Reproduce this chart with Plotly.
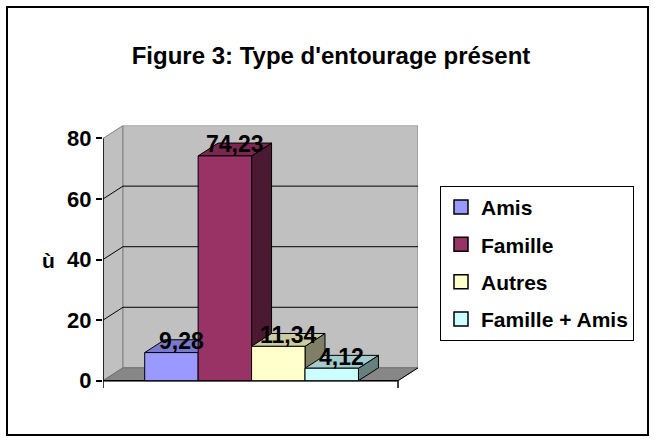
import plotly.graph_objects as go

# ---- data ----
categories = ["Amis", "Famille", "Autres", "Famille + Amis"]
values = [9.28, 74.23, 11.34, 4.12]
value_labels = ["9,28", "74,23", "11,34", "4,12"]
colors = ["#9999FF", "#993366", "#FFFFCC", "#CCFFFF"]
y_ticks = [0, 20, 40, 60, 80]
title_text = "Figure 3: Type d'entourage présent"
y_title = "ù"

# ---- geometry (in data units) ----
W, H = 655, 447
FONT = "Liberation Sans, Arial, sans-serif"
ymax = y_ticks[-1]
xL = -1.28          # front-left of floor
xR = 4.24           # front-right of floor
dx = 0.374          # depth offset (x units)
dy = 4.245          # depth offset (y units)
ybot = -2.5         # a little room for axis ticks below zero

# pixel placement of plot area
px_left, px_right = 103, 418
px_top, px_zero = 127, 385
yscale = (px_zero - px_top) / (ymax + dy)
px_bottom = px_zero - ybot * yscale


def shade(hexcol, f):
    h = hexcol.lstrip("#")
    r, g, b = (int(h[i:i + 2], 16) for i in (0, 2, 4))
    return "rgb(%d,%d,%d)" % (r * f, g * f, b * f)


def poly(xs, ys, fill, line, lw=1):
    return go.Scatter(x=list(xs) + [xs[0]], y=list(ys) + [ys[0]], mode="lines",
                      fill="toself", fillcolor=fill,
                      line=dict(color=line, width=lw),
                      hoverinfo="skip", showlegend=False)


def seg(xs, ys, color, lw=1):
    return go.Scatter(x=xs, y=ys, mode="lines", line=dict(color=color, width=lw),
                      hoverinfo="skip", showlegend=False)


fig = go.Figure()

# side wall
fig.add_trace(poly([xL, xL, xL + dx, xL + dx], [0, ymax, ymax + dy, dy], "#C0C0C0", "#808080"))
# back wall
fig.add_trace(poly([xL + dx, xL + dx, xR + dx, xR + dx], [dy, ymax + dy, ymax + dy, dy], "#C0C0C0", "#808080"))
# floor
fig.add_trace(poly([xL, xL + dx, xR + dx, xR], [0, dy, dy, 0], "#878787", "#707070"))
fig.add_trace(seg([xR, xR + dx], [0, dy], "black"))

# gridlines (excluding 0 and top)
for v in y_ticks[1:-1]:
    fig.add_trace(seg([xL, xL + dx, xR + dx], [v, v + dy, v + dy], "black"))

# front axes
fig.add_trace(seg([xL, xL], [0, ymax], "black", 1.5))
fig.add_trace(seg([xL, xR], [0, 0], "black", 1.5))
fig.add_trace(seg([xL, xL], [0, ybot], "black", 1.5))
fig.add_trace(seg([xR, xR], [0, ybot], "black", 1.5))

# 3D bars
for i, (v, c) in enumerate(zip(values, colors)):
    x0, x1 = i - 0.5, i + 0.5
    # side face
    fig.add_trace(poly([x1, x1, x1 + dx, x1 + dx], [0, v, v + dy, dy], shade(c, 0.5), "black"))
    # top face
    fig.add_trace(poly([x0, x0 + dx, x1 + dx, x1], [v, v + dy, v + dy, v], shade(c, 0.8), "black"))
    # front face
    fig.add_trace(poly([x0, x0, x1, x1], [0, v, v, 0], c, "black"))

# legend entries
for i, (name, c) in enumerate(zip(categories, colors)):
    fig.add_trace(go.Scatter(x=[None], y=[None], mode="markers", name=name,
                             legendgroup="g%d" % i,
                             marker=dict(symbol="square", size=14, color=c,
                                         line=dict(color="black", width=1.5))))

# value labels
for i, (v, t) in enumerate(zip(values, value_labels)):
    fig.add_annotation(x=i + dx / 2, y=v + dy / 2, text=t, showarrow=False,
                       yshift=5, font=dict(family=FONT, size=23, color="black", weight="bold"))

# y axis title
fig.add_annotation(xref="paper", yref="paper", x=48 / W, xanchor="center",
                   y=(H - 263) / H, yanchor="middle", text=y_title,
                   showarrow=False, font=dict(family=FONT, size=21, color="black", weight="bold"))

fig.update_layout(
    width=W, height=H, autosize=False,
    margin=dict(l=0, r=0, t=0, b=0),
    paper_bgcolor="white", plot_bgcolor="rgba(0,0,0,0)",
    font=dict(family=FONT, color="black"),
    title=dict(text=title_text, x=331 / W, xanchor="center", y=(H - 56) / H, yanchor="middle",
               font=dict(family=FONT, size=24, color="black", weight="bold")),
    xaxis=dict(domain=[px_left / W, px_right / W], range=[xL, xR + dx], visible=False),
    yaxis=dict(domain=[(H - px_bottom) / H, (H - px_top) / H], range=[ybot, ymax + dy],
               tickvals=y_ticks, ticktext=[str(t) for t in y_ticks],
               ticks="outside", ticklen=6, tickcolor="black", tickwidth=1.5,
               showgrid=False, zeroline=False, showline=False,
               tickfont=dict(family=FONT, size=22, color="black", weight="bold")),
    legend=dict(x=440 / W, xanchor="left", y=(H - 188) / H, yanchor="top",
                bgcolor="white", bordercolor="black", borderwidth=1,
                tracegroupgap=7,
                font=dict(family=FONT, size=21, color="black", weight="bold")),
    showlegend=True,
    shapes=[dict(type="rect", xref="paper", yref="paper",
                 x0=7 / W, x1=648 / W, y0=(H - 440) / H, y1=(H - 7) / H,
                 line=dict(color="black", width=2))],
)

fig.write_html("out.html", config={"displayModeBar": False},
               post_script="document.body.style.margin='0';document.body.style.overflow='hidden';")
